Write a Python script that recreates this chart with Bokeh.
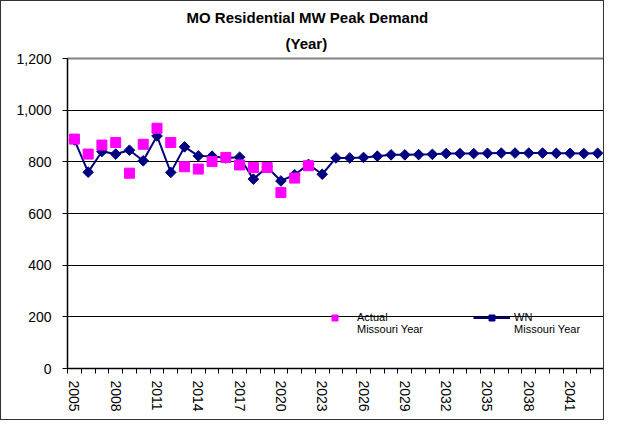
import math
from bokeh.plotting import figure
from bokeh.models import FixedTicker, NumeralTickFormatter, Legend, LegendItem, Range1d, Title
from bokeh.embed import file_html
from bokeh.resources import INLINE

# ---- data ----
years = list(range(2005, 2044))
wn_values = [885, 760, 840, 830, 845, 804, 900, 759, 858, 823,
             822, 815, 818, 733, 780, 726, 750, 790, 752, 815,
             815, 817, 822, 827, 827, 828, 829, 832, 832, 832,
             833, 834, 834, 834, 834, 833, 833, 832, 833]
actual_years = list(range(2005, 2023))
actual_values = [888, 830, 865, 875, 756, 868, 930, 875, 781, 772,
                 801, 817, 788, 778, 778, 681, 737, 785]
label_years = list(range(2005, 2043, 3))
y_ticks = [0, 200, 400, 600, 800, 1000, 1200]
title_line1 = "MO Residential MW Peak Demand"
title_line2 = "(Year)"
actual_label = " \nActual\nMissouri Year"
wn_label = " \nWN\nMissouri Year"

FONT = "Liberation Sans"

p = figure(width=604, height=420, output_backend="svg", toolbar_location=None,
           x_range=Range1d(years[0] - 0.5, years[-1] + 0.5),
           y_range=Range1d(y_ticks[0], y_ticks[-1]),
           min_border_left=66, min_border_right=1, min_border_top=57, min_border_bottom=53)
p.styles = {"border": "1px solid #333333"}

p.title.text = title_line1
p.title.align = "left"
p.title.offset = 119
p.title.text_font = FONT
p.title.text_font_size = "15px"
p.title.text_font_style = "bold"
p.title.text_color = "black"
p.title.standoff = 0
p.add_layout(Title(text=title_line2, align="left", offset=218, text_font=FONT,
                   text_font_size="15px", text_font_style="bold", text_color="black",
                   text_line_height=0.05, standoff=14), "above")

p.background_fill_color = "white"
p.border_fill_color = "white"
p.outline_line_color = "#808080"
p.outline_line_width = 2

# grid
p.xgrid.visible = False
p.ygrid.ticker = FixedTicker(ticks=y_ticks)
p.ygrid.grid_line_color = "black"
p.ygrid.grid_line_width = 1

# y axis
p.yaxis.ticker = FixedTicker(ticks=y_ticks)
p.yaxis.formatter = NumeralTickFormatter(format="0,0")
p.yaxis.axis_line_color = "black"
p.yaxis.major_tick_line_color = "black"
p.yaxis.major_tick_in = 0
p.yaxis.major_tick_out = 5
p.yaxis.minor_tick_line_color = None
p.yaxis.major_label_text_font = FONT
p.yaxis.major_label_text_font_size = "14px"
p.yaxis.major_label_text_color = "black"
p.yaxis.major_label_standoff = 11

# x axis
p.xaxis.ticker = FixedTicker(ticks=label_years,
                             minor_ticks=[y - 0.5 for y in years] + [years[-1] + 0.5])
p.xaxis.axis_line_color = "black"
p.xaxis.major_tick_in = 0
p.xaxis.major_tick_out = 0
p.xaxis.minor_tick_line_color = "black"
p.xaxis.minor_tick_in = 0
p.xaxis.minor_tick_out = 5
p.xaxis.major_label_orientation = -math.pi / 2
p.xaxis.major_label_text_font = FONT
p.xaxis.major_label_text_font_size = "14px"
p.xaxis.major_label_text_color = "black"
p.xaxis.major_label_standoff = 7

# series
wn_line = p.line(years, wn_values, line_color="#000080", line_width=2)
wn_pts = p.scatter(years, wn_values, marker="square", angle=math.pi / 4, size=7.5,
                   fill_color="#000080", line_color="#000080")
act = p.scatter(actual_years, actual_values, marker="square", size=10,
                fill_color="#FF00FF", line_color="#FF00FF")

legend = Legend(items=[LegendItem(label=actual_label, renderers=[act]),
                       LegendItem(label=wn_label, renderers=[wn_line, wn_pts])],
                orientation="horizontal", location=(249, 33),
                glyph_width=37, glyph_height=15, label_standoff=4, spacing=50,
                padding=0, margin=0, border_line_alpha=0, background_fill_alpha=0,
                label_text_font=FONT, label_text_font_size="11px",
                label_text_color="black")
p.add_layout(legend)

open("out.html", "w").write(file_html(p, INLINE))
